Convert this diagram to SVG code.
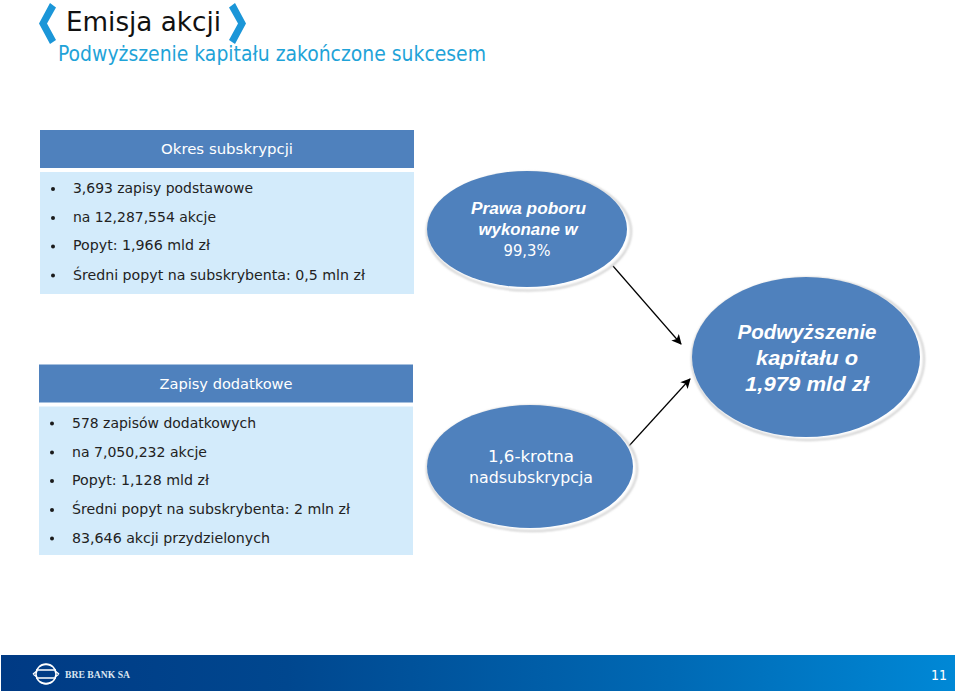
<svg xmlns="http://www.w3.org/2000/svg" width="960" height="695" viewBox="0 0 960 695">
<style>
.b{font-size:14.500px;fill:#222;font-family:"DejaVu Sans Condensed","DejaVu Sans",sans-serif;font-stretch:condensed}
.h{font-size:14.500px;fill:#fff;text-anchor:middle;font-family:"DejaVu Sans Condensed","DejaVu Sans",sans-serif;font-stretch:condensed}
.hd{fill:#4f81bd}
.bd{fill:#d3ebfb}
.dot{fill:#1a1a1a}
.sh{fill:#fff;stroke:#bdbdbd;stroke-width:1.500;filter:url(#soft)}
.el{fill:#4f81bd}
.n{fill:#fff;text-anchor:middle;font-family:"Liberation Sans",sans-serif;font-weight:700;font-style:italic}
.m{fill:#fff;text-anchor:middle;font-family:"DejaVu Sans Condensed","DejaVu Sans",sans-serif;font-stretch:condensed}
.c{stroke:#000;stroke-width:1.200;fill:none;marker-end:url(#ar)}
.chev{fill:#1b96d8}
</style>
<defs>
<marker id="ar" viewBox="0 0 10 10" refX="9" refY="5" markerWidth="10" markerHeight="10" markerUnits="userSpaceOnUse" orient="auto"><path d="M0 0L10 5L0 10L2.500 5Z" fill="#000"/></marker>
<linearGradient id="foot" x1="0" x2="1" y1="0" y2="0"><stop offset="0" stop-color="#003a84"/><stop offset=".3" stop-color="#00478f"/><stop offset=".7" stop-color="#0069b4"/><stop offset="1" stop-color="#0088d6"/></linearGradient>
<filter id="soft" x="-10%" y="-10%" width="120%" height="120%"><feGaussianBlur stdDeviation="0.800"/></filter>
</defs>
<rect width="960" height="695" fill="#fff"/>
<g id="title">
<path class="chev" d="M50 3L56 7.500L47 23.500L56 40L50 44L39 23.500Z"/>
<path class="chev" d="M235 3L229 7.500L238 23.500L229 40L235 44L246 23.500Z"/>
<text x="66" y="31" font-size="27" fill="#111" font-family="DejaVu Sans Condensed, DejaVu Sans" font-stretch="condensed" textLength="155" lengthAdjust="spacingAndGlyphs">Emisja akcji</text>
<text x="58" y="61" font-size="20.500" fill="#1fa3d8" font-family="DejaVu Sans Condensed, DejaVu Sans" font-stretch="condensed" textLength="428" lengthAdjust="spacingAndGlyphs">Podwyższenie kapitału zakończone sukcesem</text>
</g>
<g id="connectors">
<path class="c" d="M613 266L681 344"/>
<path class="c" d="M628 447L690 379"/>
</g>
<g id="box1">
<rect class="hd" x="40" y="130" width="374" height="38"/>
<text class="h" x="227" y="154" textLength="132" lengthAdjust="spacingAndGlyphs">Okres subskrypcji</text>
<rect class="bd" x="40" y="172" width="374" height="122"/>
<circle class="dot" cx="53" cy="189" r="2"/><text class="b" x="73" y="193" textLength="180" lengthAdjust="spacingAndGlyphs">3,693 zapisy podstawowe</text>
<circle class="dot" cx="53" cy="218" r="2"/><text class="b" x="73" y="222" textLength="143" lengthAdjust="spacingAndGlyphs">na 12,287,554 akcje</text>
<circle class="dot" cx="53" cy="246.500" r="2"/><text class="b" x="73" y="250" textLength="137" lengthAdjust="spacingAndGlyphs">Popyt: 1,966 mld zł</text>
<circle class="dot" cx="53" cy="275.500" r="2"/><text class="b" x="73" y="279.500" textLength="292" lengthAdjust="spacingAndGlyphs">Średni popyt na subskrybenta: 0,5 mln zł</text>
</g>
<g id="box2">
<rect class="hd" x="39" y="364.500" width="374" height="38"/>
<text class="h" x="226" y="389" textLength="133" lengthAdjust="spacingAndGlyphs">Zapisy dodatkowe</text>
<rect class="bd" x="39" y="406.500" width="374" height="148.500"/>
<circle class="dot" cx="52" cy="423.500" r="2"/><text class="b" x="72" y="428" textLength="184" lengthAdjust="spacingAndGlyphs">578 zapisów dodatkowych</text>
<circle class="dot" cx="52" cy="452.500" r="2"/><text class="b" x="72" y="457" textLength="135" lengthAdjust="spacingAndGlyphs">na 7,050,232 akcje</text>
<circle class="dot" cx="52" cy="481" r="2"/><text class="b" x="72" y="485" textLength="137" lengthAdjust="spacingAndGlyphs">Popyt: 1,128 mld zł</text>
<circle class="dot" cx="52" cy="510" r="2"/><text class="b" x="72" y="514" textLength="278" lengthAdjust="spacingAndGlyphs">Średni popyt na subskrybenta: 2 mln zł</text>
<circle class="dot" cx="52" cy="538.500" r="2"/><text class="b" x="72" y="543" textLength="198" lengthAdjust="spacingAndGlyphs">83,646 akcji przydzielonych</text>
</g>
<g id="node-prawa">
<ellipse class="sh" cx="529" cy="231.500" rx="102" ry="59"/>
<ellipse class="el" cx="527" cy="229" rx="100" ry="58"/>
<text class="n" x="528.500" y="214" font-size="16" textLength="115" lengthAdjust="spacingAndGlyphs">Prawa poboru</text>
<text class="n" x="528" y="235" font-size="16" textLength="99" lengthAdjust="spacingAndGlyphs">wykonane w</text>
<text class="m" x="527" y="256" font-size="15" textLength="47" lengthAdjust="spacingAndGlyphs">99,3%</text>
</g>
<g id="node-podwyzszenie">
<ellipse class="sh" cx="808" cy="359" rx="116" ry="81"/>
<ellipse class="el" cx="806" cy="357" rx="114" ry="80"/>
<text class="n" x="807" y="339" font-size="21" textLength="139" lengthAdjust="spacingAndGlyphs">Podwyższenie</text>
<text class="n" x="807" y="365" font-size="21" textLength="102" lengthAdjust="spacingAndGlyphs">kapitału o</text>
<text class="n" x="807" y="391" font-size="21" textLength="124" lengthAdjust="spacingAndGlyphs">1,979 mld zł</text>
</g>
<g id="node-nadsubskrypcja">
<ellipse class="sh" cx="532" cy="468.500" rx="105" ry="62.500"/>
<ellipse class="el" cx="530" cy="466.500" rx="103" ry="61.500"/>
<text class="m" x="531" y="462" font-size="16" textLength="86" lengthAdjust="spacingAndGlyphs">1,6-krotna</text>
<text class="m" x="531" y="483" font-size="16" textLength="124" lengthAdjust="spacingAndGlyphs">nadsubskrypcja</text>
</g>
<g id="footer">
<rect x="1" y="655" width="954" height="36" fill="url(#foot)"/>
<g fill="none" stroke="#fff" stroke-width="1.500">
<ellipse cx="46" cy="674" rx="10" ry="10"/>
<path d="M36 670H56M36 678H56M40 666Q46 663 52 666M40 682Q46 685 52 682"/>
<path d="M33 674L37 671M33 674L37 677M59 674L55 671M59 674L55 677"/>
</g>
<text x="65" y="678" font-size="10" font-weight="700" fill="#d8e4f0" font-family="Liberation Serif" textLength="65" lengthAdjust="spacingAndGlyphs">BRE BANK SA</text>
<text x="931" y="680" font-size="14" fill="#fff" font-family="DejaVu Sans Condensed, DejaVu Sans" font-stretch="condensed">11</text>
</g>
</svg>
